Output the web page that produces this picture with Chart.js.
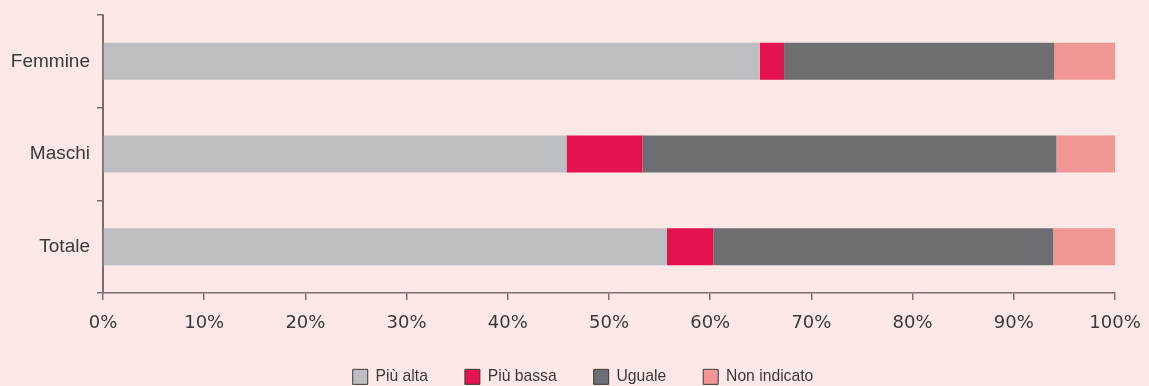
<!DOCTYPE html>
<html>
<head>
<meta charset="utf-8">
<script src="https://cdn.jsdelivr.net/npm/chart.js@4.4.1/dist/chart.umd.min.js"></script>
<style>
  html, body { margin: 0; padding: 0; background: #fce8e6; }
  #wrap { width: 1149px; height: 386px; position: relative; }
</style>
</head>
<body>
<div id="wrap"><canvas id="chart" width="1149" height="386"></canvas></div>
<script>
// Categories (top to bottom) and the share of each answer, in percent
const categories = ['Femmine', 'Maschi', 'Totale'];
const seriesNames = ['Più alta', 'Più bassa', 'Uguale', 'Non indicato'];
const piuAlta     = [64.9, 45.8, 55.7];
const piuBassa    = [2.4, 7.5, 4.6];
const uguale      = [26.7, 40.9, 33.6];
const nonIndicato = [6.0, 5.8, 6.1];
const xTickValues = [0, 10, 20, 30, 40, 50, 60, 70, 80, 90, 100];

const colors = ['#bdbec2', '#e31250', '#6d6e72', '#f09694'];
const axisColor = '#7a6f70';
const textColor = '#3a3a3a';

const seriesValues = [piuAlta, piuBassa, uguale, nonIndicato];

// Fixed legend band height and a small horizontal offset for the legend row
const legendTweaks = {
  id: 'legendTweaks',
  beforeLayout(chart) {
    const lg = chart.legend;
    if (lg && !lg._fixedFit) {
      const fit = lg.fit.bind(lg);
      lg.fit = function () { fit(); this.height = 54; };
      lg._fixedFit = true;
    }
  },
  afterLayout(chart) {
    const lg = chart.legend;
    if (lg) { lg.left += 20; lg.right += 20; }
  }
};

// Tick labels sit inside the layout padding, so scales ask for no extra room
const noLabelOverflow = (scale) => {
  scale.paddingTop = 0;
  scale.paddingBottom = 0;
  scale.paddingLeft = 0;
  scale.paddingRight = 0;
};

new Chart(document.getElementById('chart'), {
  type: 'bar',
  data: {
    labels: categories,
    datasets: seriesNames.map((name, i) => ({
      label: name,
      data: seriesValues[i],
      backgroundColor: colors[i],
      borderWidth: 0,
      categoryPercentage: 1,
      barPercentage: 0.4
    }))
  },
  plugins: [legendTweaks],
  options: {
    indexAxis: 'y',
    responsive: false,
    animation: false,
    layout: { padding: { left: 11, right: 34, top: 15, bottom: 0 } },
    scales: {
      x: {
        stacked: true,
        min: 0,
        max: 100,
        afterBuildTicks: (scale) => { scale.ticks = xTickValues.map(v => ({ value: v })); },
        afterFit: (scale) => { noLabelOverflow(scale); scale.height = 39; },
        border: { display: true, color: axisColor, width: 1.5 },
        grid: { display: true, drawOnChartArea: false, drawTicks: true, tickLength: 7, color: axisColor, lineWidth: 1.5 },
        ticks: {
          color: textColor,
          font: { family: 'DejaVu Sans', size: 18 },
          padding: 13,
          maxRotation: 0,
          callback: (v) => v + '%'
        }
      },
      y: {
        stacked: true,
        afterFit: (scale) => { noLabelOverflow(scale); scale.width = 92; },
        border: { display: true, color: axisColor, width: 2 },
        grid: { display: true, offset: true, drawOnChartArea: false, drawTicks: true, tickLength: 6, color: axisColor, lineWidth: 1.5 },
        ticks: {
          color: textColor,
          font: { family: 'Liberation Sans', size: 19 },
          padding: 7
        }
      }
    },
    plugins: {
      tooltip: { enabled: false },
      legend: {
        position: 'bottom',
        labels: {
          boxWidth: 15,
          boxHeight: 15,
          padding: 37,
          color: textColor,
          font: { family: 'Liberation Sans', size: 15.7 },
          generateLabels: (chart) => chart.data.datasets.map((ds, i) => ({
            text: ds.label,
            fillStyle: ds.backgroundColor,
            strokeStyle: '#3a3a3a',
            lineWidth: 1,
            fontColor: textColor,
            datasetIndex: i,
            hidden: false
          }))
        }
      }
    }
  }
});
</script>
</body>
</html>
